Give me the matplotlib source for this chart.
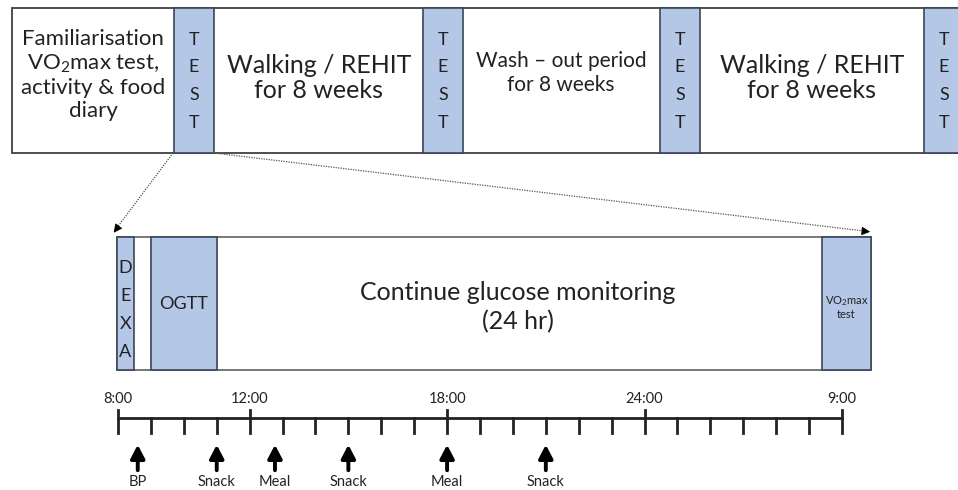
import matplotlib
matplotlib.use("Agg")
from matplotlib import pyplot as plt
from matplotlib.patches import Rectangle

plt.rcParams['font.family'] = ['Lato', 'DejaVu Sans']
plt.rcParams['mathtext.fontset'] = 'custom'
plt.rcParams['mathtext.rm'] = 'Lato'
plt.rcParams['mathtext.it'] = 'Lato'

# top row: study phases
phase_labels = ["Familiarisation\nVO$_2$max test,\nactivity & food\ndiary",
                "Walking / REHIT\nfor 8 weeks",
                "Wash \u2013 out period\nfor 8 weeks",
                "Walking / REHIT\nfor 8 weeks"]
phase_sizes = [16, 18, 15, 18]
phase_cy = [75, 78, 73, 78]
phase_spacing = [1.18, 1.15, 1.3, 1.15]
test_left = [174, 423, 660, 924]
test_width = 40

# timeline: tick index 0..22, labelled hours
major_labels = ["8:00", "12:00", "18:00", "24:00", "9:00"]
major_idx = [0, 4, 10, 16, 22]
n_ticks = 23
event_labels = ["BP", "Snack", "Meal", "Snack", "Meal", "Snack"]
event_idx = [0.6, 3, 4.77, 7, 10, 13]

BLUE = "#b4c7e7"
EDGE = "#3b4656"
TXT = "#222222"

fig = plt.figure(figsize=(9.58, 4.90), dpi=100)
ax = fig.add_axes([0, 0, 1, 1])
ax.set_xlim(0, 958)
ax.set_ylim(490, 0)
ax.axis("off")

# ---- top row
ax.add_patch(Rectangle((12, 8), 960, 145, fc="white", ec="#404040", lw=1.3))
for x in test_left:
    ax.add_patch(Rectangle((x, 8), test_width, 145, fc=BLUE, ec=EDGE, lw=1.2))
    for k, ch in enumerate("TEST"):
        ax.text(x + test_width / 2, 40 + 27.5 * k, ch, ha="center", va="center",
                fontsize=13, color=TXT)

centers = [93, 319, 561, 812]
for lab, cx, cy, fs, ls in zip(phase_labels, centers, phase_cy, phase_sizes,
                               phase_spacing):
    ax.text(cx, cy, lab, ha="center", va="center", fontsize=fs,
            color=TXT, linespacing=ls)

# dotted connectors
ax.plot([173, 116], [153, 229], ls=(0, (1, 1)), color="#555555", lw=0.9)
ax.plot([214, 864], [153, 231], ls=(0, (1, 1)), color="#555555", lw=0.9)
ax.annotate("", xy=(112, 235), xytext=(118, 227),
            arrowprops=dict(arrowstyle="-|>,head_width=0.25,head_length=0.5",
                            color="black", lw=0.8))
ax.annotate("", xy=(873, 232), xytext=(862, 231),
            arrowprops=dict(arrowstyle="-|>,head_width=0.25,head_length=0.5",
                            color="black", lw=0.8))

# ---- bottom box
ax.add_patch(Rectangle((117, 237), 754, 133, fc="white", ec="#606060", lw=1.2))
ax.add_patch(Rectangle((117, 237), 17, 133, fc=BLUE, ec=EDGE, lw=1.2))
for k, ch in enumerate("DEXA"):
    ax.text(125.5, 268 + 28 * k, ch, ha="center", va="center", fontsize=13,
            color=TXT)
ax.add_patch(Rectangle((151, 237), 66, 133, fc=BLUE, ec=EDGE, lw=1.2))
ax.text(184, 304, "OGTT", ha="center", va="center", fontsize=13, color=TXT)
ax.add_patch(Rectangle((822, 237), 49, 133, fc=BLUE, ec=EDGE, lw=1.2))
ax.text(846.5, 307, "VO$_2$max\ntest", ha="center", va="center", fontsize=8,
        color=TXT, linespacing=1.15)
ax.text(518, 307, "Continue glucose monitoring\n(24 hr)", ha="center",
        va="center", fontsize=18, color=TXT, linespacing=1.3)

# ---- timeline
x0, step = 118, (842 - 118) / 22


def tx(i):
    return x0 + step * i


ax.plot([tx(0), tx(n_ticks - 1)], [418, 418], color=TXT, lw=2)
for i in range(n_ticks):
    top = 410 if i in major_idx else 418
    ax.plot([tx(i), tx(i)], [top, 433], color=TXT, lw=2)
for lab, i in zip(major_labels, major_idx):
    ax.text(tx(i), 399, lab, ha="center", va="center", fontsize=10.5, color=TXT)
for lab, i in zip(event_labels, event_idx):
    ax.annotate("", xy=(tx(i), 442), xytext=(tx(i), 473),
                arrowprops=dict(arrowstyle="-|>,head_width=0.42,head_length=0.8",
                                color="black", lw=2.8))
    ax.text(tx(i), 482, lab, ha="center", va="center", fontsize=10.5, color=TXT)

fig.savefig("out.png", dpi=100)
